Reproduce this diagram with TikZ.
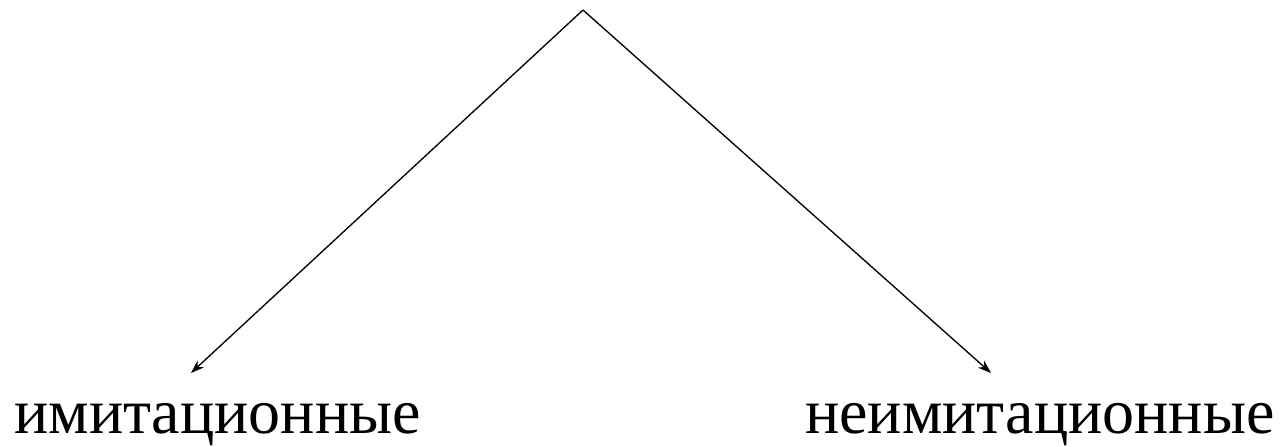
\documentclass[tikz,border=0pt]{standalone}
\usepackage{fontspec}
\setmainfont{Liberation Serif}
\usetikzlibrary{arrows.meta}
\tikzset{
  lbl/.style={inner sep=0pt, anchor=base west, font=\fontsize{48pt}{57pt}\selectfont},
  conn/.style={line width=1pt, -{Stealth[length=10pt,width=7pt]}}
}
\begin{document}
\begin{tikzpicture}[x=0.75pt,y=-0.75pt]
\useasboundingbox (0,0) rectangle (1280,446);
\coordinate (apex) at (583,10);
\coordinate (ltip) at (191,373);
\coordinate (rtip) at (991,373);
\node[lbl] (left) at (14,433) {имитационные};
\node[lbl] (right) at (805,433) {неимитационные};
\draw[conn] (apex) -- (ltip);
\draw[conn] (apex) -- (rtip);
\end{tikzpicture}
\end{document}
